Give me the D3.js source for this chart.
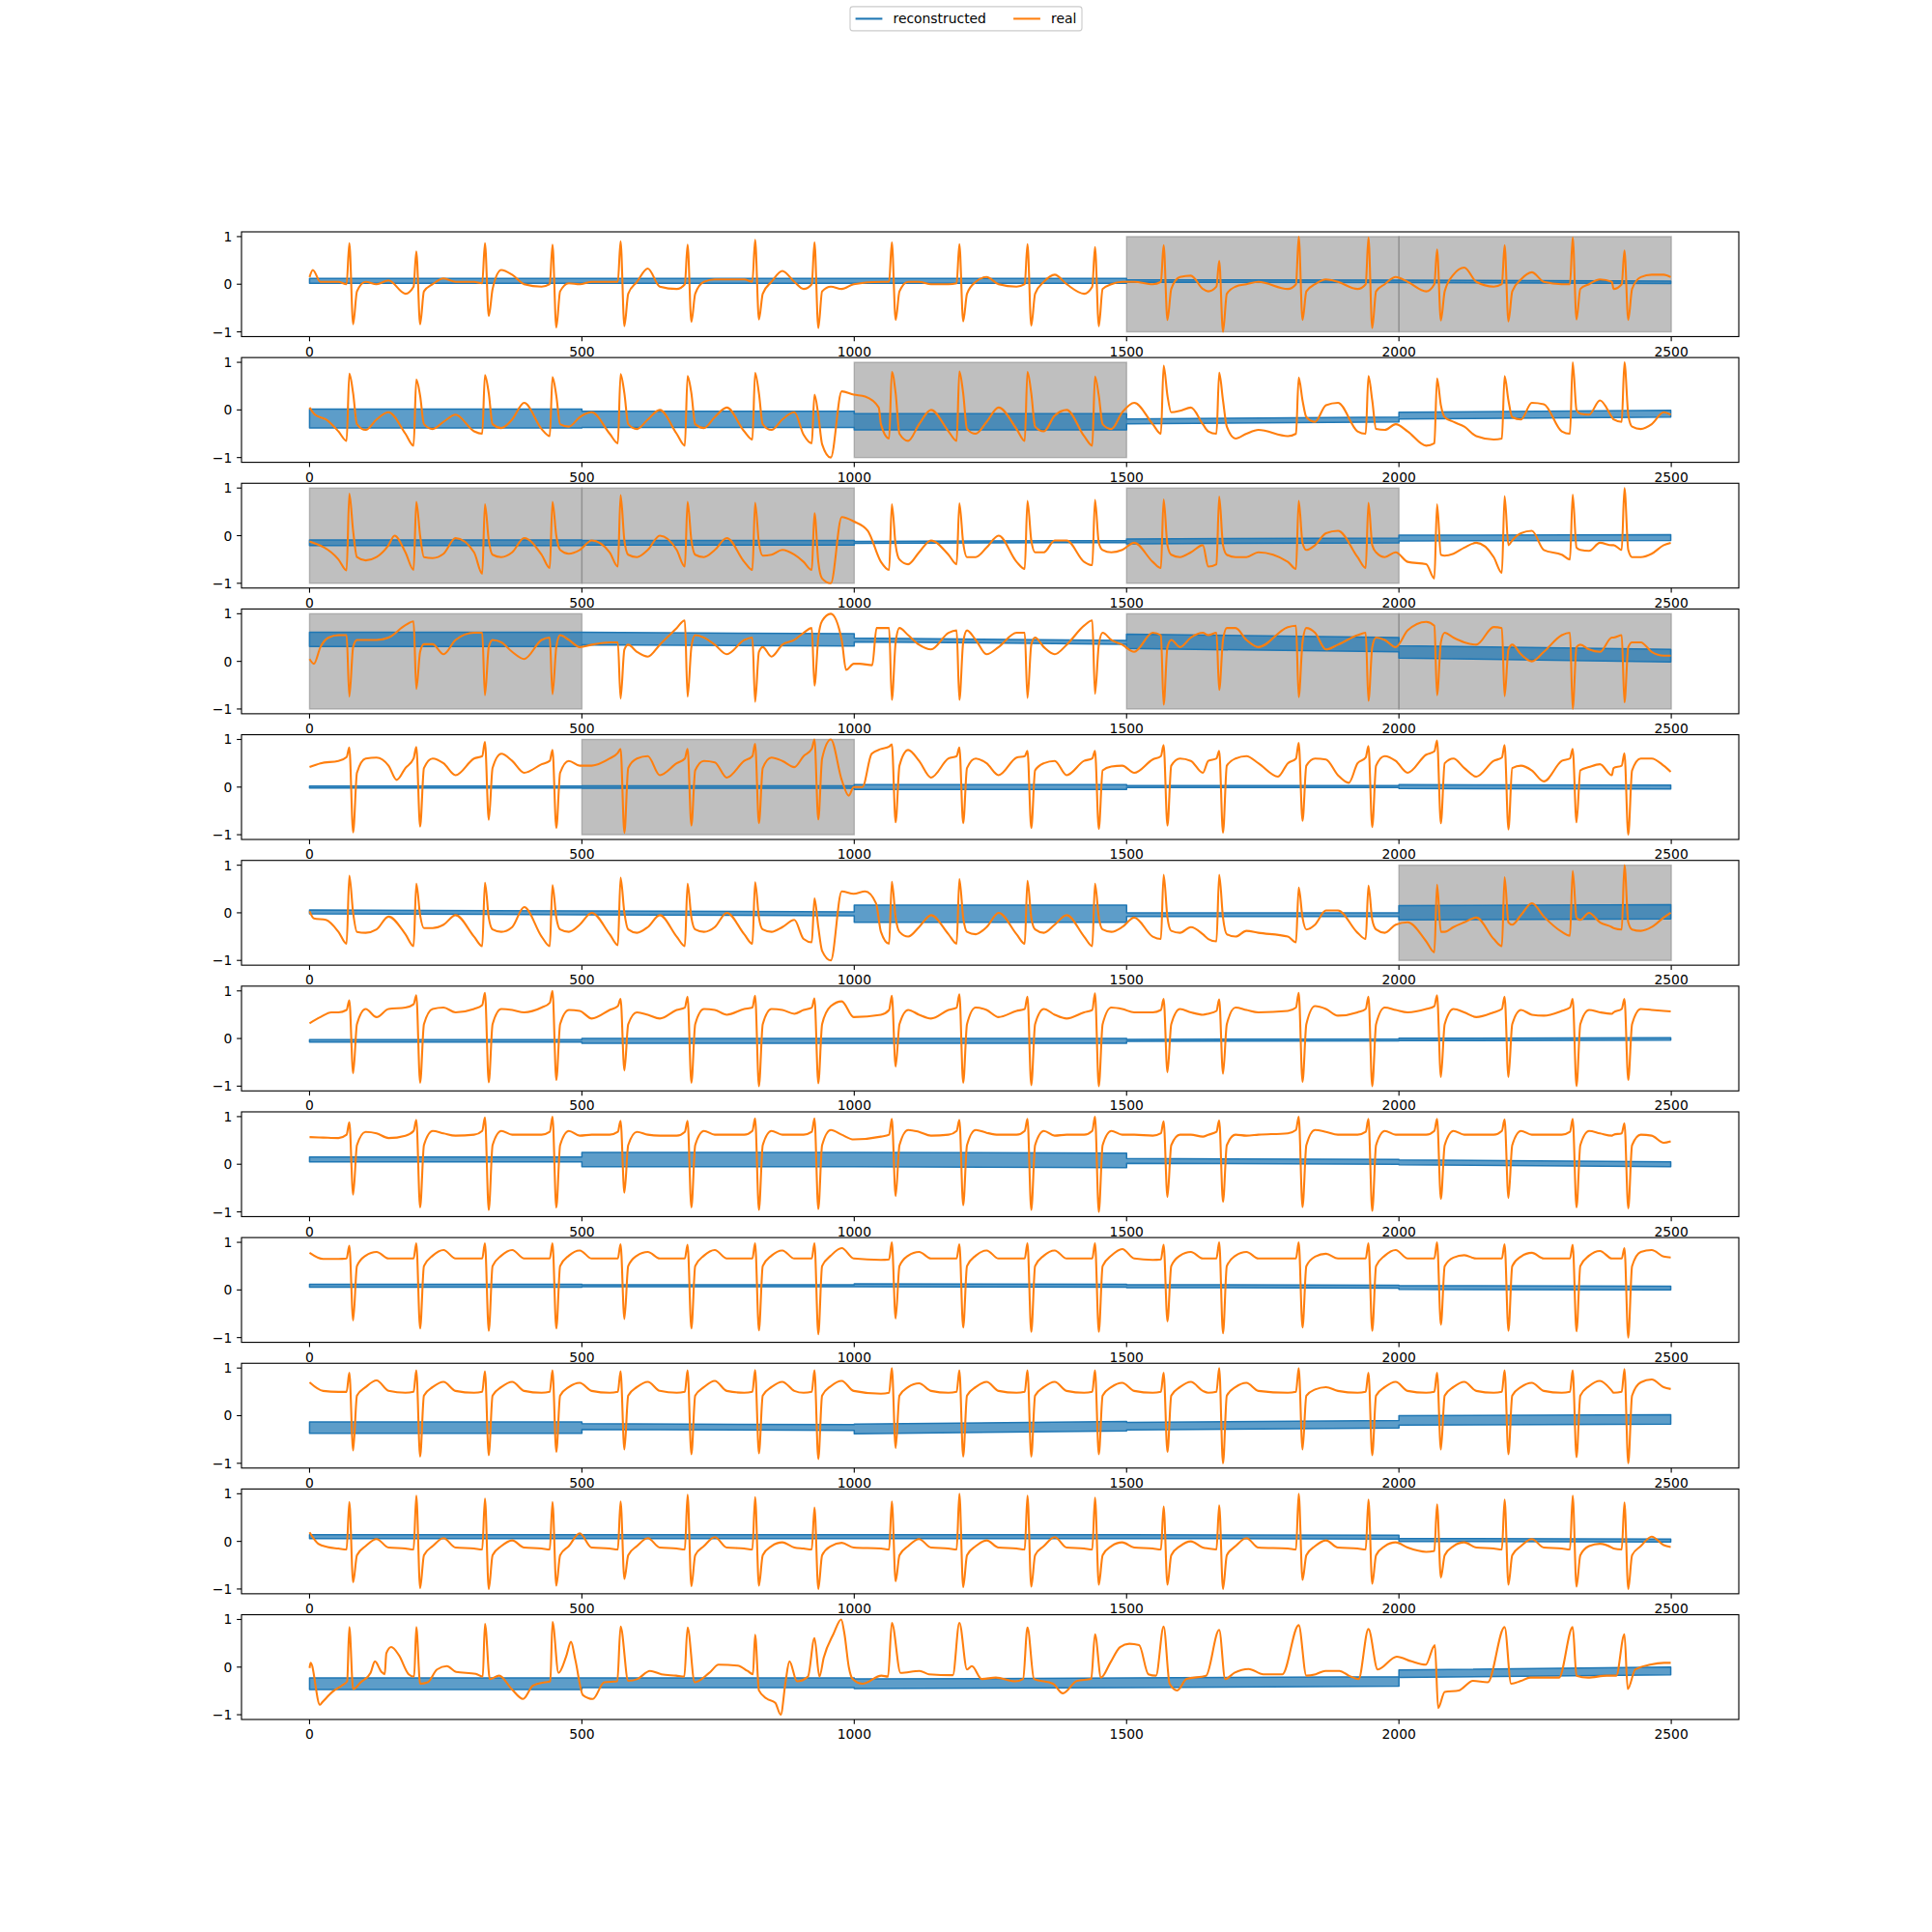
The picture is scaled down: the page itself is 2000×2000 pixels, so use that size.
<!DOCTYPE html>
<html><head><meta charset="utf-8">
<script src="https://cdn.jsdelivr.net/npm/d3@7"></script>
<style>body{margin:0;background:#fff}svg{display:block}text{font-family:"DejaVu Sans",sans-serif;fill:#000}</style>
</head><body><svg id="c" width="2000" height="2000"></svg>
<script>
// ---------- data ----------
const nSamples = 2500;
const xTicks = [0, 500, 1000, 1500, 2000, 2500];
const yTicks = [-1, 0, 1];
const seriesNames = ["reconstructed", "real"];
// R-peak sample indices (shared by all leads)
const beats = [73,196,322,446,571,694,818,927,1069,1193,1318,1442,1568,1670,1816,1944,2070,2194,2319,2414];
// sample offsets (relative to each beat) at which the "real" rows below are read
const beatOffsets = [-20,-5,0,7,14,30,50,72];
// reconstructed: per 500-sample segment [level at start, level at end, half-width of noise band]
const recon1 = [[0.07,0.07,0.05],[0.07,0.07,0.05],[0.07,0.07,0.05],[0.07,0.06,0.025],[0.06,0.04,0.025]];
const recon2 = [[-0.18,-0.18,0.2],[-0.2,-0.2,0.17],[-0.25,-0.25,0.17],[-0.24,-0.2,0.05],[-0.12,-0.08,0.07]];
const recon3 = [[-0.15,-0.15,0.06],[-0.15,-0.15,0.05],[-0.14,-0.12,0.02],[-0.12,-0.1,0.05],[-0.05,-0.04,0.06]];
const recon4 = [[0.46,0.46,0.15],[0.48,0.45,0.13],[0.45,0.4,0.04],[0.42,0.35,0.15],[0.2,0.12,0.13]];
const recon5 = [[0.0,0.0,0.02],[0.0,0.0,0.025],[0.0,0.0,0.05],[0.01,0.01,0.02],[0.01,0.0,0.04]];
const recon6 = [[0.02,0.0,0.04],[0.0,-0.02,0.04],[-0.02,-0.02,0.18],[-0.04,-0.04,0.04],[0.0,0.02,0.15]];
const recon7 = [[-0.05,-0.05,0.025],[-0.05,-0.05,0.05],[-0.05,-0.05,0.05],[-0.04,-0.03,0.02],[-0.02,-0.01,0.025]];
const recon8 = [[0.1,0.1,0.05],[0.1,0.1,0.15],[0.1,0.08,0.15],[0.07,0.05,0.05],[0.04,0.0,0.05]];
const recon9 = [[0.09,0.09,0.03],[0.09,0.09,0.02],[0.1,0.09,0.03],[0.08,0.07,0.03],[0.05,0.04,0.04]];
const recon10 = [[-0.25,-0.25,0.12],[-0.23,-0.25,0.06],[-0.28,-0.22,0.1],[-0.22,-0.18,0.08],[-0.1,-0.08,0.1]];
const recon11 = [[0.1,0.1,0.04],[0.1,0.1,0.04],[0.1,0.1,0.04],[0.1,0.09,0.04],[0.03,0.02,0.03]];
const recon12 = [[-0.35,-0.35,0.12],[-0.33,-0.33,0.1],[-0.35,-0.33,0.1],[-0.33,-0.3,0.1],[-0.14,-0.08,0.08]];
// masked (shaded) sample ranges per subplot
const spans1 = [[1500,2000],[2000,2500]];
const spans2 = [[1000,1500]];
const spans3 = [[0,500],[500,1000],[1500,2000]];
const spans4 = [[0,500],[1500,2000],[2000,2500]];
const spans5 = [[500,1000]];
const spans6 = [[2000,2500]];
const spans7 = [], spans8 = [], spans9 = [], spans10 = [], spans11 = [], spans12 = [];
// real: per beat, values at beatOffsets; ends = [first, last]; extra = [[index, value]]
const real1 = [
[0.05,0.0,0.86,-0.84,-0.15,0.05,0.0,0.08],[-0.2,-0.05,0.69,-0.84,-0.15,0.0,0.12,0.05],[0.05,0.02,0.86,-0.67,-0.1,0.3,0.2,0.0],
[-0.05,0.0,0.83,-0.91,-0.15,0.02,0.0,0.05],[0.05,0.05,0.9,-0.88,-0.2,0.05,0.33,-0.05],[-0.1,0.0,0.83,-0.79,-0.2,0.05,0.1,0.1],
[0.1,0.05,0.93,-0.74,-0.2,0.05,0.28,0.05],[-0.1,0.0,0.88,-0.92,-0.15,-0.05,-0.1,0.0],[0.05,0.05,0.88,-0.75,-0.15,0.05,0.05,0.0],
[0.0,0.02,0.84,-0.78,-0.2,0.05,0.15,0.0],[-0.05,0.0,0.84,-0.87,-0.2,0.05,0.2,0.0],[-0.2,-0.05,0.78,-0.88,-0.1,0.0,0.05,0.05],
[0.0,0.05,0.82,-0.75,-0.1,0.15,0.18,-0.1],[-0.15,-0.05,0.49,-1.0,-0.2,-0.05,0.0,0.05],[-0.1,0.0,1.0,-0.75,-0.15,0.0,0.1,0.05],
[-0.1,0.0,0.98,-0.92,-0.15,0.0,0.15,0.05],[-0.15,0.0,0.73,-0.76,-0.15,0.2,0.35,0.05],[-0.05,0.0,0.82,-0.78,-0.15,0.1,0.25,0.05],
[0.0,0.0,0.98,-0.74,-0.1,0.0,0.1,0.05],[-0.1,0.0,0.71,-0.75,-0.1,0.15,0.2,0.2]];
const real1Ends = [0.15, 0.15];
const real1Extra = [[6,0.3],[20,0.05]];
const real2 = [
[-0.45,-0.65,0.76,0.35,-0.3,-0.42,-0.2,-0.05],[-0.5,-0.75,0.64,0.3,-0.3,-0.4,-0.25,-0.1],[-0.45,-0.5,0.73,0.35,-0.3,-0.38,-0.2,0.15],
[-0.4,-0.55,0.69,0.3,-0.3,-0.35,-0.15,-0.05],[-0.5,-0.7,0.75,0.35,-0.3,-0.4,-0.2,0.0],[-0.5,-0.75,0.71,0.35,-0.3,-0.38,-0.15,0.05],
[-0.45,-0.62,0.78,0.35,-0.3,-0.42,-0.2,-0.05],[-0.52,-0.7,0.32,-0.1,-0.72,-1.0,0.39,0.32],[-0.3,-0.6,0.8,0.35,-0.5,-0.65,-0.3,0.0],
[-0.45,-0.65,0.81,0.35,-0.4,-0.5,-0.25,0.05],[-0.4,-0.65,0.8,0.35,-0.35,-0.45,-0.12,0.0],[-0.55,-0.75,0.7,0.3,-0.3,-0.4,-0.05,0.15],
[-0.3,-0.5,0.93,0.3,-0.05,-0.02,0.05,-0.3],[-0.45,-0.5,0.78,0.2,-0.35,-0.6,-0.5,-0.42],[-0.55,-0.5,0.68,0.2,-0.15,-0.25,0.1,0.15],
[-0.45,-0.5,0.71,0.2,-0.4,-0.42,-0.3,-0.45],[-0.75,-0.7,0.66,0.1,-0.15,-0.25,-0.35,-0.55],[-0.62,-0.6,0.71,0.2,-0.15,-0.2,0.15,0.12],
[-0.45,-0.5,1.0,0.0,-0.08,-0.1,0.2,-0.15],[-0.2,-0.25,1.0,-0.1,-0.35,-0.4,-0.3,-0.05]];
const real2Ends = [0.05, -0.1];
const real2Extra = [[10,-0.1],[30,-0.2],[1020,0.28],[1045,0.05]];
const real3 = [
[-0.5,-0.73,0.88,0.1,-0.45,-0.52,-0.45,-0.2],[-0.35,-0.72,0.71,0.0,-0.45,-0.47,-0.38,-0.05],[-0.35,-0.8,0.66,-0.1,-0.4,-0.45,-0.35,-0.05],
[-0.4,-0.68,0.71,0.0,-0.3,-0.38,-0.3,-0.1],[-0.35,-0.65,0.85,-0.1,-0.4,-0.45,-0.3,0.0],[-0.3,-0.65,0.71,-0.1,-0.4,-0.45,-0.3,-0.05],
[-0.55,-0.72,0.69,-0.15,-0.42,-0.4,-0.3,-0.4],[-0.55,-0.72,0.47,-0.55,-0.9,-1.0,0.39,0.3],[-0.55,-0.72,0.66,-0.2,-0.5,-0.6,-0.35,-0.1],
[-0.4,-0.6,0.68,-0.15,-0.45,-0.45,-0.25,0.0],[-0.55,-0.7,0.73,-0.1,-0.35,-0.35,-0.1,-0.1],[-0.55,-0.62,0.75,-0.15,-0.3,-0.35,-0.3,-0.15],
[-0.55,-0.68,0.76,-0.2,-0.4,-0.45,-0.35,-0.2],[-0.65,-0.6,0.82,-0.2,-0.4,-0.45,-0.45,-0.35],[-0.55,-0.7,0.73,-0.15,-0.3,-0.2,0.05,0.1],
[-0.45,-0.68,0.69,-0.2,-0.35,-0.45,-0.35,-0.55],[-0.6,-0.9,0.66,-0.4,-0.42,-0.38,-0.25,-0.15],[-0.45,-0.78,0.83,-0.2,-0.1,0.05,0.1,-0.3],
[-0.4,-0.5,0.86,-0.25,-0.3,-0.32,-0.15,-0.2],[-0.2,-0.3,1.0,-0.3,-0.45,-0.45,-0.38,-0.2]];
const real3Ends = [-0.12, -0.15];
const real3Extra = [[156,0.0],[1025,0.1]];
const real4 = [
[0.55,0.55,-0.74,0.3,0.45,0.45,0.45,0.5],[0.76,0.84,-0.58,0.2,0.36,0.36,0.15,0.45],[0.6,0.6,-0.71,0.3,0.45,0.4,0.2,0.05],
[0.45,0.5,-0.69,0.3,0.55,0.45,0.3,0.35],[0.4,0.4,-0.78,0.25,0.35,0.2,0.1,0.35],[0.7,0.86,-0.74,0.3,0.55,0.5,0.35,0.15],
[0.45,0.5,-0.85,0.2,0.3,0.1,0.35,0.45],[0.6,0.7,-0.51,0.5,0.85,1.0,0.45,-0.05],[0.7,0.7,-0.81,0.4,0.7,0.55,0.35,0.25],
[0.6,0.65,-0.81,0.4,0.65,0.45,0.15,0.3],[0.6,0.6,-0.77,0.35,0.5,0.3,0.15,0.35],[0.75,0.86,-0.68,0.35,0.6,0.45,0.35,0.2],
[0.6,0.55,-0.91,0.3,0.45,0.3,0.5,0.6],[0.55,0.6,-0.6,0.45,0.7,0.7,0.45,0.3],[0.72,0.75,-0.75,0.4,0.7,0.6,0.25,0.35],
[0.55,0.6,-0.83,0.3,0.5,0.45,0.3,0.65],[0.83,0.75,-0.71,0.4,0.6,0.5,0.4,0.35],[0.72,0.7,-0.73,0.25,0.35,0.15,0.0,0.2],
[0.55,0.6,-1.0,0.3,0.35,0.25,0.2,0.5],[0.5,0.55,-0.86,0.3,0.4,0.4,0.2,0.12]];
const real4Ends = [0.05, 0.12];
const real4Extra = [[8,-0.05],[20,0.3],[35,0.5],[985,-0.18],[1010,-0.05],[1033,-0.08],[1041,0.7]];
const real5 = [
[0.55,0.63,0.83,-0.95,0.3,0.6,0.62,0.45],[0.4,0.6,0.84,-0.83,0.4,0.6,0.5,0.25],[0.6,0.65,0.95,-0.69,0.4,0.7,0.55,0.3],
[0.48,0.55,0.78,-0.86,0.3,0.55,0.45,0.45],[0.6,0.72,0.8,-0.96,0.4,0.6,0.65,0.25],[0.5,0.6,0.8,-0.81,0.35,0.55,0.52,0.2],
[0.55,0.65,0.91,-0.76,0.4,0.62,0.55,0.42],[0.65,0.8,1.0,-0.68,0.6,1.0,0.15,0.0],[0.8,0.85,0.9,-0.74,0.45,0.78,0.55,0.2],
[0.6,0.65,0.83,-0.76,0.4,0.6,0.5,0.25],[0.62,0.65,0.76,-0.86,0.35,0.5,0.55,0.25],[0.55,0.6,0.76,-0.88,0.35,0.43,0.45,0.3],
[0.58,0.65,0.88,-0.81,0.45,0.6,0.55,0.3],[0.55,0.6,0.76,-0.96,0.45,0.6,0.65,0.5],[0.5,0.6,0.93,-0.71,0.45,0.6,0.58,0.25],
[0.5,0.62,0.86,-0.84,0.45,0.65,0.55,0.3],[0.68,0.75,0.98,-0.76,0.5,0.6,0.4,0.22],[0.55,0.62,0.88,-0.89,0.4,0.45,0.35,0.12],
[0.55,0.6,0.8,-0.74,0.35,0.42,0.48,0.25],[0.4,0.45,0.71,-1.0,0.35,0.6,0.6,0.45]];
const real5Ends = [0.42, 0.32];
const real5Extra = [[20,0.5],[160,0.15],[990,-0.18],[1015,0.0],[1032,0.7],[1778,0.22],[1908,0.09]];
const real6 = [
[-0.4,-0.65,0.78,0.0,-0.4,-0.42,-0.35,-0.08],[-0.45,-0.7,0.61,-0.05,-0.32,-0.32,-0.25,-0.05],[-0.5,-0.7,0.63,-0.1,-0.35,-0.4,-0.3,0.12],
[-0.5,-0.7,0.58,-0.1,-0.35,-0.4,-0.25,0.0],[-0.45,-0.68,0.74,0.0,-0.35,-0.42,-0.3,-0.05],[-0.5,-0.7,0.61,-0.1,-0.35,-0.4,-0.3,0.0],
[-0.45,-0.65,0.64,-0.1,-0.35,-0.4,-0.3,-0.15],[-0.55,-0.62,0.3,-0.3,-0.8,-1.0,0.45,0.4],[-0.4,-0.65,0.65,-0.1,-0.4,-0.5,-0.3,-0.05],
[-0.45,-0.65,0.71,-0.1,-0.4,-0.45,-0.3,0.0],[-0.45,-0.65,0.67,-0.1,-0.35,-0.42,-0.25,-0.05],[-0.5,-0.7,0.61,-0.1,-0.35,-0.4,-0.3,-0.1],
[-0.5,-0.55,0.8,-0.1,-0.38,-0.42,-0.3,-0.45],[-0.55,-0.6,0.8,-0.1,-0.45,-0.5,-0.38,-0.42],[-0.5,-0.62,0.53,-0.1,-0.35,-0.25,0.05,0.05],
[-0.42,-0.55,0.57,-0.15,-0.35,-0.42,-0.25,-0.2],[-0.6,-0.83,0.59,-0.4,-0.4,-0.3,-0.2,-0.1],[-0.55,-0.7,0.75,-0.2,-0.25,-0.05,0.2,-0.08],
[-0.4,-0.48,0.88,-0.1,-0.15,0.0,-0.2,-0.3],[-0.32,-0.35,1.0,-0.2,-0.35,-0.38,-0.3,-0.1]];
const real6Ends = [0.03, 0.0];
const real6Extra = [[8,-0.12],[30,-0.15],[1020,0.45],[1040,0.2]];
const real7 = [
[0.55,0.6,0.8,-0.73,0.3,0.62,0.45,0.62],[0.65,0.72,0.91,-0.93,0.3,0.62,0.65,0.55],[0.62,0.7,0.96,-0.92,0.3,0.62,0.6,0.55],
[0.65,0.75,1.0,-0.87,0.3,0.6,0.58,0.42],[0.6,0.68,0.83,-0.67,0.3,0.55,0.5,0.42],[0.6,0.65,0.88,-0.93,0.3,0.62,0.6,0.5],
[0.62,0.65,0.9,-1.0,0.3,0.62,0.6,0.52],[0.6,0.65,0.84,-0.94,0.3,0.68,0.78,0.45],[0.5,0.6,0.9,-0.59,0.3,0.6,0.5,0.42],
[0.6,0.65,0.93,-0.93,0.3,0.65,0.6,0.45],[0.58,0.62,0.88,-0.98,0.3,0.62,0.5,0.42],[0.55,0.6,0.95,-1.0,0.3,0.65,0.62,0.55],
[0.55,0.6,0.83,-0.71,0.3,0.62,0.55,0.5],[0.52,0.58,0.82,-0.74,0.3,0.65,0.6,0.55],[0.58,0.65,0.96,-0.91,0.3,0.68,0.62,0.48],
[0.55,0.62,0.88,-1.0,0.3,0.65,0.6,0.55],[0.62,0.68,0.91,-0.81,0.3,0.62,0.55,0.45],[0.55,0.62,0.88,-0.81,0.3,0.6,0.5,0.48],
[0.58,0.65,0.83,-1.0,0.3,0.6,0.55,0.52],[0.55,0.62,0.83,-0.87,0.3,0.62,0.6,0.58]];
const real7Ends = [0.32, 0.57];
const real7Extra = [[20,0.45],[40,0.55]];
const real8 = [
[0.55,0.62,0.88,-0.64,0.4,0.68,0.65,0.55],[0.6,0.7,0.93,-0.91,0.4,0.7,0.65,0.6],[0.62,0.7,0.98,-0.96,0.4,0.7,0.62,0.62],
[0.62,0.68,1.0,-0.91,0.4,0.7,0.6,0.62],[0.62,0.68,0.91,-0.6,0.4,0.68,0.62,0.6],[0.6,0.68,0.91,-0.91,0.4,0.7,0.62,0.62],
[0.62,0.7,0.96,-0.96,0.4,0.7,0.62,0.62],[0.62,0.68,0.96,-0.94,0.4,0.72,0.62,0.52],[0.58,0.62,0.95,-0.67,0.4,0.72,0.68,0.6],
[0.62,0.7,0.93,-0.86,0.4,0.72,0.66,0.62],[0.62,0.7,0.95,-0.96,0.4,0.7,0.6,0.62],[0.62,0.7,1.0,-1.0,0.4,0.7,0.62,0.62],
[0.6,0.65,0.9,-0.69,0.4,0.62,0.62,0.58],[0.62,0.68,0.92,-0.79,0.4,0.62,0.6,0.62],[0.65,0.72,1.0,-0.9,0.4,0.72,0.68,0.62],
[0.62,0.68,0.95,-0.98,0.4,0.7,0.62,0.62],[0.62,0.7,0.95,-0.73,0.4,0.7,0.62,0.62],[0.62,0.7,0.94,-0.71,0.4,0.7,0.62,0.62],
[0.62,0.68,0.95,-0.91,0.4,0.7,0.65,0.6],[0.62,0.65,0.86,-0.93,0.4,0.62,0.6,0.45]];
const real8Ends = [0.57, 0.48];
const real8Extra = [[25,0.56]];
const real9 = [
[0.65,0.66,0.93,-0.64,0.5,0.72,0.8,0.66],[0.66,0.66,0.98,-0.81,0.5,0.72,0.84,0.66],[0.66,0.66,0.98,-0.86,0.5,0.72,0.84,0.66],
[0.66,0.66,0.98,-0.81,0.5,0.72,0.83,0.66],[0.66,0.66,0.96,-0.61,0.5,0.72,0.8,0.66],[0.66,0.66,0.95,-0.81,0.5,0.72,0.84,0.66],
[0.66,0.66,0.98,-0.85,0.5,0.72,0.83,0.66],[0.66,0.66,0.98,-0.93,0.5,0.72,0.88,0.66],[0.63,0.64,1.0,-0.6,0.5,0.72,0.8,0.66],
[0.66,0.66,0.96,-0.79,0.5,0.72,0.83,0.66],[0.66,0.66,0.98,-0.88,0.5,0.72,0.83,0.66],[0.66,0.66,0.98,-0.88,0.5,0.72,0.86,0.66],
[0.63,0.64,0.95,-0.66,0.5,0.72,0.8,0.66],[0.66,0.66,1.0,-0.91,0.5,0.72,0.8,0.66],[0.66,0.66,1.0,-0.79,0.5,0.7,0.76,0.66],
[0.66,0.66,0.98,-0.86,0.5,0.72,0.84,0.66],[0.66,0.66,1.0,-0.73,0.5,0.68,0.73,0.66],[0.66,0.66,0.96,-0.86,0.5,0.7,0.78,0.66],
[0.66,0.66,0.95,-0.87,0.5,0.72,0.82,0.66],[0.66,0.66,0.88,-1.0,0.5,0.8,0.84,0.7]];
const real9Ends = [0.78, 0.68];
const real9Extra = [[25,0.65]];
const real10 = [
[0.5,0.5,0.9,-0.73,0.42,0.6,0.74,0.52],[0.48,0.5,0.95,-0.86,0.42,0.6,0.71,0.52],[0.48,0.5,0.93,-0.83,0.42,0.6,0.71,0.52],
[0.48,0.5,0.95,-0.76,0.42,0.6,0.69,0.52],[0.48,0.5,0.93,-0.71,0.42,0.6,0.71,0.52],[0.48,0.5,0.95,-0.81,0.42,0.6,0.73,0.52],
[0.48,0.5,0.96,-0.79,0.42,0.6,0.71,0.52],[0.48,0.5,0.95,-0.91,0.42,0.62,0.73,0.52],[0.46,0.48,1.0,-0.68,0.42,0.6,0.68,0.52],
[0.48,0.5,0.95,-0.86,0.42,0.6,0.71,0.52],[0.48,0.5,0.95,-0.86,0.42,0.6,0.71,0.52],[0.48,0.5,0.95,-0.81,0.42,0.6,0.69,0.52],
[0.48,0.5,0.9,-0.76,0.42,0.6,0.71,0.52],[0.48,0.5,1.0,-1.0,0.42,0.6,0.69,0.52],[0.48,0.5,1.0,-0.71,0.42,0.55,0.6,0.52],
[0.48,0.5,0.9,-0.83,0.42,0.6,0.71,0.52],[0.48,0.5,0.9,-0.71,0.42,0.6,0.71,0.52],[0.48,0.5,0.95,-0.81,0.42,0.6,0.69,0.52],
[0.48,0.5,0.95,-0.87,0.42,0.62,0.73,0.52],[0.48,0.5,0.98,-1.0,0.42,0.7,0.76,0.6]];
const real10Ends = [0.7, 0.56];
const real10Extra = [[25,0.52]];
const real11 = [
[-0.15,-0.17,0.83,-0.86,-0.29,-0.1,0.05,-0.13],[-0.15,-0.17,0.96,-0.98,-0.29,-0.1,0.07,-0.13],[-0.15,-0.17,0.9,-1.0,-0.29,-0.1,0.02,-0.13],
[-0.15,-0.17,0.83,-0.93,-0.29,-0.1,0.17,-0.13],[-0.15,-0.17,0.84,-0.79,-0.29,-0.1,0.07,-0.13],[-0.15,-0.17,0.98,-0.94,-0.29,-0.1,0.09,-0.13],
[-0.15,-0.17,0.93,-0.93,-0.29,-0.1,-0.02,-0.13],[-0.15,-0.17,0.71,-1.0,-0.29,-0.1,-0.03,-0.13],[-0.15,-0.17,0.84,-0.84,-0.29,-0.1,0.05,-0.13],
[-0.15,-0.17,1.0,-0.96,-0.29,-0.1,0.02,-0.13],[-0.15,-0.17,0.96,-0.95,-0.29,-0.1,0.09,-0.13],[-0.15,-0.17,0.92,-0.91,-0.29,-0.1,-0.02,-0.13],
[-0.15,-0.17,0.73,-0.91,-0.29,-0.1,0.0,-0.13],[-0.15,-0.17,0.76,-1.0,-0.29,-0.1,0.07,-0.13],[-0.15,-0.17,1.0,-0.81,-0.29,-0.1,0.02,-0.13],
[-0.15,-0.17,0.88,-0.89,-0.29,-0.1,-0.02,-0.13],[-0.22,-0.2,0.78,-0.76,-0.29,-0.1,-0.02,-0.13],[-0.15,-0.17,0.88,-0.91,-0.29,-0.1,0.05,-0.13],
[-0.15,-0.17,0.96,-0.95,-0.29,-0.1,-0.05,-0.13],[-0.15,-0.17,0.82,-1.0,-0.29,-0.1,0.1,-0.08]];
const real11Ends = [0.19, -0.12];
const real11Extra = [[16,-0.05],[33,-0.12]];
// lead 12 is irregular: read as explicit [index, value] points
const real12Points = [[0,-0.02],[2,0.09],[19,-0.79],[24,-0.73],[42,-0.52],[59,-0.39],[69,-0.3],[73,0.84],[80,-0.46],[94,-0.32],[112,-0.12],[120,0.12],[132,-0.1],[138,-0.15],[141,0.29],[150,0.42],[164,0.25],[182,-0.15],[192,-0.2],[196,0.84],[203,-0.35],[217,-0.32],[234,-0.05],[252,0.02],[269,-0.1],[305,-0.14],[318,-0.2],[322,0.91],[331,-0.25],[348,-0.18],[371,-0.46],[392,-0.67],[410,-0.39],[432,-0.32],[442,-0.3],[446,0.95],[457,-0.12],[471,0.22],[480,0.53],[488,0.15],[502,-0.59],[520,-0.67],[541,-0.32],[565,-0.3],[571,0.85],[585,-0.29],[602,-0.25],[625,-0.08],[646,-0.15],[673,-0.18],[688,-0.2],[694,0.83],[707,-0.32],[734,-0.12],[751,0.05],[786,0.03],[804,-0.08],[814,-0.15],[818,0.68],[825,-0.49],[839,-0.66],[855,-0.75],[865,-1.0],[874,-0.3],[881,0.12],[895,-0.3],[915,-0.2],[927,0.61],[936,-0.2],[944,0.2],[962,0.7],[976,1.0],[982,0.7],[990,0.0],[997,-0.25],[1015,-0.35],[1050,-0.18],[1062,-0.2],[1069,0.93],[1085,-0.12],[1120,-0.08],[1137,-0.15],[1181,-0.17],[1193,0.93],[1207,-0.05],[1216,0.02],[1234,-0.25],[1260,-0.22],[1295,-0.3],[1310,-0.25],[1318,0.83],[1330,-0.25],[1365,-0.35],[1383,-0.55],[1409,-0.29],[1435,-0.25],[1442,0.69],[1453,-0.22],[1470,0.09],[1488,0.42],[1505,0.49],[1523,0.46],[1540,-0.15],[1554,-0.18],[1568,0.85],[1579,-0.35],[1593,-0.49],[1610,-0.25],[1646,-0.18],[1670,0.78],[1681,-0.25],[1698,-0.12],[1724,-0.04],[1751,-0.15],[1786,-0.15],[1816,0.88],[1830,-0.18],[1847,-0.15],[1865,-0.08],[1891,-0.08],[1908,-0.18],[1926,-0.25],[1944,0.8],[1961,-0.05],[1996,0.22],[2023,0.12],[2049,0.05],[2066,0.46],[2072,-0.86],[2084,-0.52],[2110,-0.49],[2136,-0.29],[2163,-0.32],[2194,0.84],[2206,-0.35],[2224,-0.29],[2241,-0.22],[2267,-0.22],[2294,-0.22],[2319,0.84],[2326,-0.18],[2347,-0.22],[2382,-0.18],[2399,-0.18],[2414,0.69],[2420,-0.46],[2434,-0.05],[2461,0.05],[2487,0.09],[2499,0.09]];

// ---------- build table ----------
function beatSeries(rows, ends, extra) {
  const pts = [[0, ends[0]], [nSamples - 1, ends[1]]];
  rows.forEach((r, b) => r.forEach((v, j) => pts.push([beats[b] + beatOffsets[j], v])));
  (extra || []).forEach(p => pts.push(p));
  return pts.filter(p => p[0] >= 0 && p[0] <= nSamples - 1).sort((a, b) => a[0] - b[0]);
}
const panels = [
  {real: beatSeries(real1, real1Ends, real1Extra), recon: recon1, spans: spans1},
  {real: beatSeries(real2, real2Ends, real2Extra), recon: recon2, spans: spans2},
  {real: beatSeries(real3, real3Ends, real3Extra), recon: recon3, spans: spans3},
  {real: beatSeries(real4, real4Ends, real4Extra), recon: recon4, spans: spans4},
  {real: beatSeries(real5, real5Ends, real5Extra), recon: recon5, spans: spans5},
  {real: beatSeries(real6, real6Ends, real6Extra), recon: recon6, spans: spans6},
  {real: beatSeries(real7, real7Ends, real7Extra), recon: recon7, spans: spans7},
  {real: beatSeries(real8, real8Ends, real8Extra), recon: recon8, spans: spans8},
  {real: beatSeries(real9, real9Ends, real9Extra), recon: recon9, spans: spans9},
  {real: beatSeries(real10, real10Ends, real10Extra), recon: recon10, spans: spans10},
  {real: beatSeries(real11, real11Ends, real11Extra), recon: recon11, spans: spans11},
  {real: real12Points, recon: recon12, spans: spans12}
];

// ---------- layout ----------
const svg = d3.select('#c');
const axL = 250, axR = 1800, figTop = 240, figBot = 1780;
const nP = panels.length;
const ph = (figBot - figTop) / (nP + (nP - 1) * 0.2);
const gap = 0.2 * ph;
const x = d3.scaleLinear().domain([-0.05 * (nSamples - 1), (nSamples - 1) * 1.05]).range([axL, axR]);
const blue = '#1f77b4', orange = '#ff7f0e';
const fs = 13.89, tickLen = 4.86, pad = 4.86;

panels.forEach((p, k) => {
  const top = figTop + k * (ph + gap);
  const y = d3.scaleLinear().domain([-1.1, 1.1]).range([top + ph, top]);
  const g = svg.append('g');
  const cid = 'clip' + k;
  svg.append('clipPath').attr('id', cid).append('rect')
    .attr('x', axL).attr('y', top).attr('width', axR - axL).attr('height', ph);
  const inner = g.append('g').attr('clip-path', `url(#${cid})`);
  // shaded spans
  inner.selectAll('rect.span').data(p.spans).enter().append('rect')
    .attr('x', d => x(d[0])).attr('width', d => x(d[1]) - x(d[0]))
    .attr('y', y(1)).attr('height', y(-1) - y(1))
    .attr('fill', 'rgba(128,128,128,0.5)').attr('stroke', 'rgba(128,128,128,0.5)').attr('stroke-width', 1.39);
  // reconstructed noise band
  const band = [];
  p.recon.forEach((s, i) => {
    const a = i * 500, b = Math.min(a + 500, nSamples - 1);
    band.push([a, s[0], s[2]], [b, s[1], s[2]]);
  });
  inner.append('path').datum(band)
    .attr('d', d3.area().x(d => x(d[0])).y0(d => y(d[1] - d[2])).y1(d => y(d[1] + d[2])))
    .attr('fill', blue).attr('fill-opacity', 0.72)
    .attr('stroke', blue).attr('stroke-width', 1.5).attr('stroke-linejoin', 'round');
  // real
  inner.append('path').datum(p.real)
    .attr('d', d3.line().curve(d3.curveMonotoneX).x(d => x(d[0])).y(d => y(d[1])))
    .attr('fill', 'none').attr('stroke', orange).attr('stroke-width', 2.08).attr('stroke-linejoin', 'round');
  // frame
  g.append('rect').attr('x', axL).attr('y', top).attr('width', axR - axL).attr('height', ph)
    .attr('fill', 'none').attr('stroke', '#000').attr('stroke-width', 1.11);
  // x ticks
  const xb = top + ph;
  xTicks.forEach(t => {
    g.append('line').attr('x1', x(t)).attr('x2', x(t)).attr('y1', xb).attr('y2', xb + tickLen)
      .attr('stroke', '#000').attr('stroke-width', 1.11);
    g.append('text').attr('x', x(t)).attr('y', xb + tickLen + pad + 10.4)
      .attr('text-anchor', 'middle').attr('font-size', fs).text(t);
  });
  yTicks.forEach(t => {
    g.append('line').attr('x1', axL - tickLen).attr('x2', axL).attr('y1', y(t)).attr('y2', y(t))
      .attr('stroke', '#000').attr('stroke-width', 1.11);
    g.append('text').attr('x', axL - tickLen - pad).attr('y', y(t) + 5)
      .attr('text-anchor', 'end').attr('font-size', fs).text(t < 0 ? '\u2212' + Math.abs(t) : t);
  });
});

// ---------- legend ----------
const lg = svg.append('g');
lg.append('rect').attr('x', 880).attr('y', 6.9).attr('width', 240).attr('height', 25).attr('rx', 2.8)
  .attr('fill', 'rgba(255,255,255,0.8)').attr('stroke', '#cccccc').attr('stroke-width', 1.11);
const legItems = [[885.6, blue, seriesNames[0]], [1049.1, orange, seriesNames[1]]];
legItems.forEach(([lx, c, name]) => {
  lg.append('line').attr('x1', lx).attr('x2', lx + 27.8).attr('y1', 19.4).attr('y2', 19.4)
    .attr('stroke', c).attr('stroke-width', 2.08);
  lg.append('text').attr('x', lx + 27.8 + 11.1).attr('y', 24.3).attr('font-size', fs).text(name);
});
</script>
</body></html>
